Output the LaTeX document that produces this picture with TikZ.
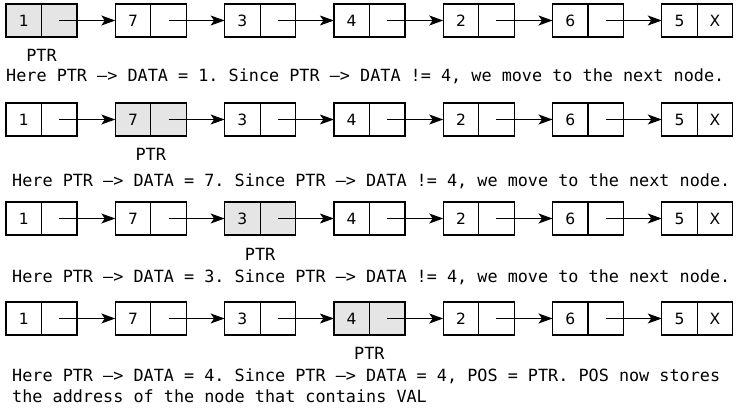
\documentclass[tikz,border=0pt]{standalone}
\usepackage{fontspec}
\newfontfamily\monof{DejaVu Sans Mono}
\newfontfamily\numf{DejaVu Sans}
\usetikzlibrary{arrows.meta}
\definecolor{curgray}{RGB}{229,229,229}
\tikzset{
  cell/.style={draw, line width=1.2pt, minimum width=35.5pt, minimum height=33pt,
    inner sep=0pt, outer sep=0pt, font=\numf\fontsize{15.5}{15.5}\selectfont},
  link/.style={-{Stealth[length=14pt,width=10pt,inset=3.5pt]}, line width=1pt},
  lbl/.style={anchor=base, inner sep=0pt, font=\monof\fontsize{16.8}{20}\selectfont},
  txt/.style={anchor=base west, inner sep=0pt, font=\monof\fontsize{16.8}{20}\selectfont\frenchspacing}
}
\begin{document}
\begin{tikzpicture}[x=1pt,y=-1pt]
\useasboundingbox (0,0) rectangle (736,407);
\foreach \r/\ty/\hl in {1/4/0,2/103/1,3/202/2,4/302/3}{
  \foreach \v [count=\i from 0] in {1,7,3,4,2,6,5}{
    \ifnum\i=\hl\relax\def\fc{curgray}\else\def\fc{white}\fi
    \node[cell, fill=\fc, anchor=north west] (d\r\i) at ({6+109.3*\i},\ty) {\v};
    \node[cell, fill=\fc, anchor=west] (p\r\i) at (d\r\i.east) {\ifnum\i=6 X\fi};
  }
  \foreach \i [evaluate=\i as \j using int(\i+1)] in {0,...,5}
    \draw[link] (p\r\i.center) -- (d\r\j.west);
}
\node[lbl] (ptr1) at (41.5,61) {PTR};
\node[lbl] (ptr2) at (150.8,160.7) {PTR};
\node[lbl] (ptr3) at (260.1,260) {PTR};
\node[lbl] (ptr4) at (369.4,359) {PTR};
\node[txt] (t1) at (6,81) {Here PTR –> DATA = 1. Since PTR –> DATA != 4, we move to the next node.};
\node[txt] (t2) at (12,186) {Here PTR –> DATA = 7. Since PTR –> DATA != 4, we move to the next node.};
\node[txt] (t3) at (12,282) {Here PTR –> DATA = 3. Since PTR –> DATA != 4, we move to the next node.};
\node[txt] (t4a) at (12,381) {Here PTR –> DATA = 4. Since PTR –> DATA = 4, POS = PTR. POS now stores};
\node[txt] (t4b) at (12,402) {the address of the node that contains VAL};
\end{tikzpicture}
\end{document}
